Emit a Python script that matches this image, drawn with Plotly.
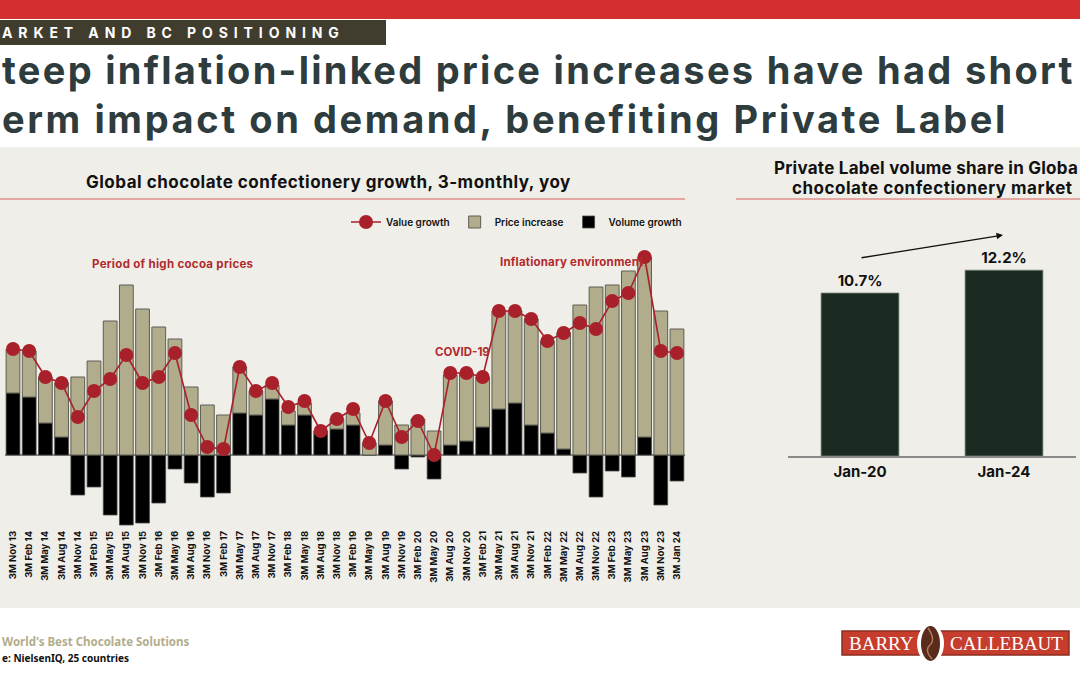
import plotly.graph_objects as go

W, H = 1080, 675

categories = [
    "3M Nov 13", "3M Feb 14", "3M May 14", "3M Aug 14", "3M Nov 14",
    "3M Feb 15", "3M May 15", "3M Aug 15", "3M Nov 15", "3M Feb 16",
    "3M May 16", "3M Aug 16", "3M Nov 16", "3M Feb 17", "3M May 17",
    "3M Aug 17", "3M Nov 17", "3M Feb 18", "3M May 18", "3M Aug 18",
    "3M Nov 18", "3M Feb 19", "3M May 19", "3M Aug 19", "3M Nov 19",
    "3M Feb 20", "3M May 20", "3M Aug 20", "3M Nov 20", "3M Feb 21",
    "3M May 21", "3M Aug 21", "3M Nov 21", "3M Feb 22", "3M May 22",
    "3M Aug 22", "3M Nov 22", "3M Feb 23", "3M May 23", "3M Aug 23",
    "3M Nov 23", "3M Jan 24",
]

value_growth = [
    5.3, 5.2, 3.9, 3.6, 1.9, 3.2, 3.8, 5.0, 3.6, 3.9,
    5.1, 2.0, 0.4, 0.3, 4.4, 3.2, 3.6, 2.4, 2.7, 1.2,
    1.8, 2.3, 0.6, 2.7, 0.9, 1.7, 0.0, 4.1, 4.1, 3.9,
    7.2, 7.2, 6.8, 5.7, 6.1, 6.6, 6.3, 7.7, 8.1, 9.9,
    5.2, 5.1,
]

volume_growth = [
    3.1, 2.9, 1.6, 0.9, -2.0, -1.6, -3.0, -3.5, -3.4, -2.4,
    -0.7, -1.4, -2.1, -1.9, 2.1, 2.0, 2.8, 1.5, 2.0, 1.1,
    1.3, 1.5, 0.0, 0.5, -0.7, -0.1, -1.2, 0.5, 0.7, 1.4,
    2.3, 2.6, 1.5, 1.1, 0.3, -0.9, -2.1, -0.8, -1.1, 0.9,
    -2.5, -1.3,
]

price_increase = [
    2.2, 2.3, 2.3, 2.7, 3.9, 4.7, 6.7, 8.5, 7.3, 6.4,
    5.8, 3.4, 2.5, 2.0, 2.3, 1.2, 0.7, 0.7, 0.6, 0.1,
    0.5, 0.6, 0.6, 2.2, 1.5, 1.8, 1.2, 3.5, 3.4, 2.5,
    4.9, 4.6, 5.3, 4.6, 5.8, 7.5, 8.4, 8.5, 9.2, 9.0,
    7.2, 6.3,
]

pl_periods = ["Jan-20", "Jan-24"]
pl_share = [10.7, 12.2]

FONT = "Inter"
RED = "#a8212a"
TAN = "#b0ac8c"
DARK_TXT = "#2e3c3d"


def px(x):
    return x / W


def py(y):
    return 1 - y / H


def spaced(text, sp):
    return f'<span style="letter-spacing:{sp}px">{text}</span>'


fig = go.Figure()

# Left chart: stacked price / volume bars + value line
fig.add_trace(go.Bar(
    x=categories, y=volume_growth, name="Volume growth",
    marker=dict(color="#000000", line=dict(color="#4a4a4a", width=0.8)),
    width=0.85, xaxis="x", yaxis="y", legendrank=3,
))
fig.add_trace(go.Bar(
    x=categories, y=price_increase, name="Price increase",
    marker=dict(color=TAN, line=dict(color="#5f5e52", width=1)),
    width=0.85, xaxis="x", yaxis="y", legendrank=2,
))
fig.add_trace(go.Scatter(
    x=categories, y=value_growth, name="Value growth", mode="lines+markers",
    line=dict(color=RED, width=1.6),
    marker=dict(color=RED, size=14),
    xaxis="x", yaxis="y", legendrank=1,
))

# Right chart: private label share
fig.add_trace(go.Bar(
    x=pl_periods, y=pl_share, name="Private Label share", showlegend=False,
    marker=dict(color="#1b2b22", line=dict(color="#6f7a72", width=0.8)),
    width=0.54, xaxis="x2", yaxis="y2",
    texttemplate="%{y:.1f}%", textposition="outside",
    textfont=dict(family=FONT, size=15, color="#111111", weight=700),
    cliponaxis=False,
))

shapes = [
    # grey panel
    dict(type="rect", xref="paper", yref="paper", x0=0, x1=1, y0=py(608), y1=py(147),
         fillcolor="#efeee9", line=dict(width=0), layer="below"),
    # header red band
    dict(type="rect", xref="paper", yref="paper", x0=0, x1=1, y0=py(19), y1=1,
         fillcolor="#d32f2e", line=dict(width=0), layer="below"),
    # section tag box
    dict(type="rect", xref="paper", yref="paper", x0=0, x1=px(386), y0=py(45), y1=py(20),
         fillcolor="#413d2e", line=dict(width=0), layer="below"),
    # separator lines under chart titles
    dict(type="line", xref="paper", yref="paper", x0=0, x1=px(685), y0=py(199), y1=py(199),
         line=dict(color="#d9605c", width=1.2)),
    dict(type="line", xref="paper", yref="paper", x0=px(736), x1=1, y0=py(199), y1=py(199),
         line=dict(color="#d9605c", width=1.2)),
    # zero line left chart
    dict(type="line", xref="x", yref="y", x0=-0.5, x1=41.5, y0=0, y1=0,
         line=dict(color="#222222", width=1), layer="between"),
    # logo
    dict(type="rect", xref="paper", yref="paper", x0=px(842), x1=px(1069), y0=py(655), y1=py(631),
         fillcolor="#c63d2d", line=dict(color="#8b2f22", width=1.5)),
    dict(type="circle", xref="paper", yref="paper", x0=px(917), x1=px(944), y0=py(663), y1=py(624),
         fillcolor="#ffffff", line=dict(width=0)),
    dict(type="circle", xref="paper", yref="paper", x0=px(921), x1=px(940), y0=py(661), y1=py(626),
         fillcolor="#5a2a1a", line=dict(width=0)),
    dict(type="path", xref="paper", yref="paper",
         path=f"M {px(928)},{py(628)} Q {px(936)},{py(640)} {px(930)},{py(645)} T {px(932)},{py(659)}",
         line=dict(color="#b07a5e", width=1.5)),
]

annotations = [
    dict(text=spaced("ARKET AND BC POSITIONING", 5.9),
         x=0, y=py(32), xanchor="left", yanchor="middle",
         font=dict(family=FONT, size=14, color="#ffffff", weight=700)),
    dict(text=spaced("teep inflation-linked price increases have had short", 2.3),
         x=0, y=py(70), xanchor="left", yanchor="middle",
         font=dict(family=FONT, size=38, color=DARK_TXT, weight=700)),
    dict(text=spaced("erm impact on demand, benefiting Private Label", 2.6),
         x=0, y=py(119), xanchor="left", yanchor="middle",
         font=dict(family=FONT, size=38, color=DARK_TXT, weight=700)),
    dict(text=spaced("Global chocolate confectionery growth, 3-monthly, yoy", 0.5),
         x=px(328), y=py(182), xanchor="center", yanchor="middle",
         font=dict(family=FONT, size=17, color="#111111", weight=700)),
    dict(text=spaced("Private Label volume share in Globa", 0.25),
         x=px(772), y=py(168), xanchor="left", yanchor="middle",
         font=dict(family=FONT, size=17, color="#111111", weight=700)),
    dict(text=spaced("chocolate confectionery market", 0.5),
         x=px(932), y=py(188), xanchor="center", yanchor="middle",
         font=dict(family=FONT, size=17, color="#111111", weight=700)),
    dict(text=spaced("Period of high cocoa prices", 0.3),
         x=px(173), y=py(264), xanchor="center", yanchor="middle",
         font=dict(family=FONT, size=11.5, color="#b02a2e", weight=700)),
    dict(text=spaced("Inflationary environment", 0.2),
         x=px(571), y=py(262), xanchor="center", yanchor="middle",
         font=dict(family=FONT, size=11.5, color="#b02a2e", weight=700)),
    dict(text="COVID-19",
         x=px(462), y=py(352), xanchor="center", yanchor="middle",
         font=dict(family=FONT, size=11.5, color="#b02a2e", weight=700)),
    # arrow on right chart
    dict(text="", x=px(1003), y=py(235), ax=-143, ay=23,
         showarrow=True, arrowhead=2, arrowsize=1, arrowwidth=1.3, arrowcolor="#111111"),
    # footer
    dict(text="World's Best Chocolate Solutions",
         x=0, y=py(641), xanchor="left", yanchor="middle",
         font=dict(family="Noto Sans", size=11.5, color="#b2ad8c", weight=700)),
    dict(text="e: NielsenIQ, 25 countries",
         x=0, y=py(658), xanchor="left", yanchor="middle",
         font=dict(family="Noto Sans", size=10, color="#111111", weight=700)),
    dict(text="BARRY", x=px(881), y=py(643), xanchor="center", yanchor="middle",
         font=dict(family="Liberation Serif", size=19, color="#ffffff")),
    dict(text="CALLEBAUT", x=px(1006), y=py(643), xanchor="center", yanchor="middle",
         font=dict(family="Liberation Serif", size=19, color="#ffffff")),
]
for a in annotations:
    a.setdefault("xref", "paper")
    a.setdefault("yref", "paper")
    a.setdefault("showarrow", False)

fig.update_layout(
    width=W, height=H,
    margin=dict(l=0, r=0, t=0, b=0),
    paper_bgcolor="#ffffff",
    plot_bgcolor="rgba(0,0,0,0)",
    barmode="relative",
    bargap=0.15,
    font=dict(family=FONT, color="#111111"),
    showlegend=True,
    legend=dict(
        orientation="h", x=px(346), y=py(222), xanchor="left", yanchor="middle",
        bgcolor="rgba(0,0,0,0)", font=dict(family=FONT, size=10, color="#111111", weight=600),
        traceorder="normal",
    ),
    xaxis=dict(
        domain=[0, px(720)], type="category", range=[-0.803, 43.656],
        showgrid=False, zeroline=False, showline=False, ticks="",
        tickangle=-90, tickfont=dict(family=FONT, size=9.5, color="#111111", weight=700),
        fixedrange=True,
    ),
    yaxis=dict(
        domain=[py(528), py(200)], range=[-3.65, 12.75],
        showgrid=False, zeroline=False, showticklabels=False, showline=False,
        fixedrange=True,
    ),
    xaxis2=dict(
        domain=[px(788), px(1076)], type="category", range=[-0.5, 1.5],
        showgrid=False, zeroline=False, showline=True, linecolor="#8a8a8a", linewidth=1.5,
        ticks="", ticklabelstandoff=1,
        tickfont=dict(family=FONT, size=15, color="#111111", weight=700),
        anchor="y2", fixedrange=True,
    ),
    yaxis2=dict(
        domain=[py(456), py(230)], range=[0, 14.84],
        showgrid=False, zeroline=False, showticklabels=False, showline=False,
        anchor="x2", fixedrange=True,
    ),
    shapes=shapes,
    annotations=annotations,
)

fig.write_html("out.html")
